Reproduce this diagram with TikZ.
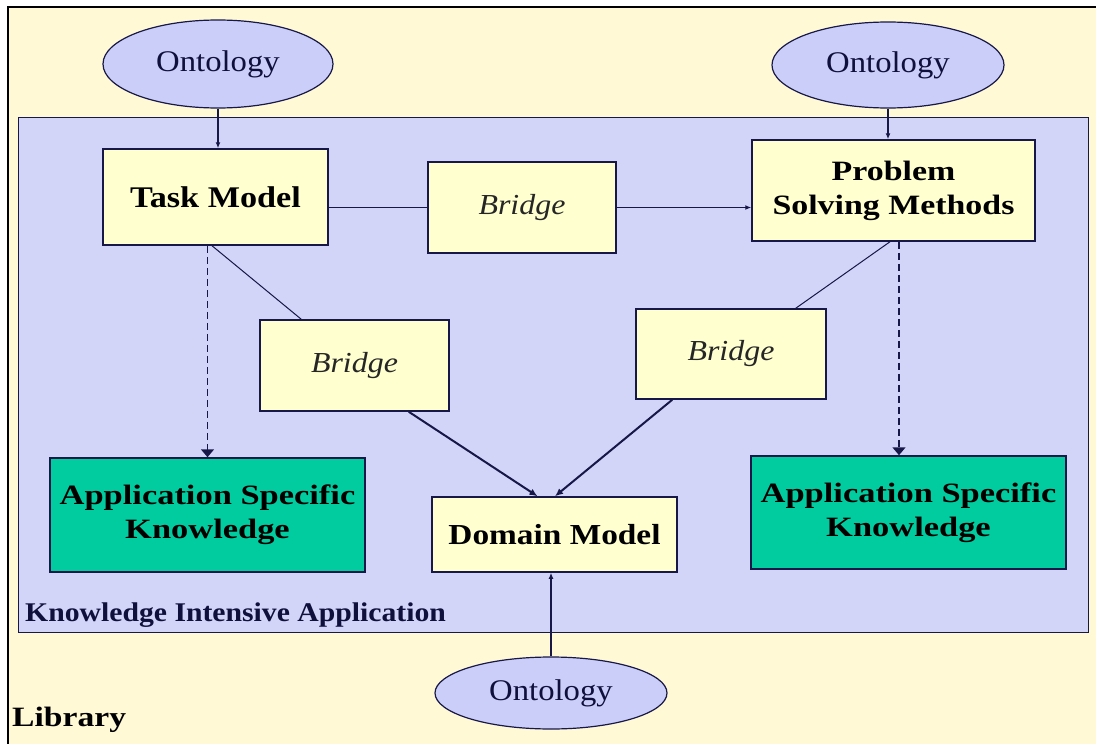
\documentclass[tikz,border=0pt]{standalone}
\usepackage{fontspec}
\setmainfont{Liberation Serif}
\usetikzlibrary{shapes.geometric,arrows.meta,calc}
\definecolor{bgyellow}{RGB}{255,249,214}
\definecolor{appblue}{RGB}{210,212,248}
\definecolor{boxyellow}{RGB}{255,255,208}
\definecolor{boxgreen}{RGB}{0,204,160}
\definecolor{ontoblue}{RGB}{204,206,250}
\definecolor{linec}{RGB}{24,24,72}
\definecolor{navytext}{RGB}{16,16,60}
\newcommand{\sx}[2]{\scalebox{#1}[1]{#2}}
\begin{document}
\begin{tikzpicture}[x=1pt,y=-1pt,
  ybox/.style={draw=linec,line width=1.5pt,fill=boxyellow,rectangle,inner sep=0pt,align=center},
  gbox/.style={draw=linec,line width=1.5pt,fill=boxgreen,rectangle,inner sep=0pt,align=center},
  onto/.style={draw=linec,line width=1.2pt,fill=ontoblue,ellipse,inner sep=0pt,text=navytext,font=\fontsize{30}{32}\selectfont},
  bold/.style={font=\bfseries\fontsize{28}{34}\selectfont},
  bridgetxt/.style={font=\itshape\fontsize{29}{32}\selectfont,text=black!85},
  conn/.style={draw=linec,line width=1.5pt},
  thinconn/.style={draw=linec,line width=1pt},
  arr/.style={conn,-{Latex[length=6pt,width=5pt]}},
  darr/.style={draw=linec,line width=1.5pt,dash pattern=on 7pt off 4pt,-{Triangle[length=8pt,width=13pt]}},
  barr/.style={draw=linec,line width=2pt,-{Latex[length=8pt,width=7pt]}}
]
\useasboundingbox (0,0) rectangle (1096,744);
\fill[white] (0,0) rectangle (1096,744);
\fill[bgyellow] (8,7) rectangle (1096,744);
\draw[black,line width=2pt] (8,746) -- (8,7) -- (1098,7);

% application area
\node[draw=linec,line width=1pt,fill=appblue,minimum width=1070pt,minimum height=515pt,inner sep=0pt,anchor=north west] (app) at (18,117) {};

% ontologies
\node[onto,minimum width=230pt,minimum height=88pt] (ontTL) at (218,64) {\sx{1.09}{Ontology}};
\node[onto,minimum width=232pt,minimum height=86pt] (ontTR) at (888,65) {\sx{1.09}{Ontology}};
\node[onto,minimum width=232pt,minimum height=72pt] (ontB) at (551,693) {\sx{1.09}{Ontology}};

% boxes
\node[ybox,font=\bfseries\fontsize{30}{34}\selectfont,minimum width=225pt,minimum height=96pt] (task) at (215.5,197) {\sx{1.14}{Task Model}};
\node[ybox,bold,minimum width=283pt,minimum height=101pt] (psm) at (893.5,190.5) {\sx{1.21}{Problem}\\\sx{1.21}{Solving Methods}};
\node[ybox,bridgetxt,minimum width=188pt,minimum height=91pt] (bridgeM) at (522,207.5) {\sx{1.1}{Bridge}};
\node[ybox,bridgetxt,minimum width=189pt,minimum height=91pt] (bridgeL) at (354.5,365.5) {\sx{1.1}{Bridge}};
\node[ybox,bridgetxt,minimum width=190pt,minimum height=90pt] (bridgeR) at (731,354) {\sx{1.1}{Bridge}};
\node[ybox,font=\bfseries\fontsize{29}{34}\selectfont,minimum width=245pt,minimum height=75pt] (domain) at (554.5,534.5) {\sx{1.15}{Domain Model}};
\node[gbox,bold,minimum width=315pt,minimum height=114pt] (greenL) at (207.5,515) {\sx{1.23}{Application Specific}\\\sx{1.23}{Knowledge}};
\node[gbox,bold,minimum width=315pt,minimum height=113pt] (greenR) at (908.5,512.5) {\sx{1.23}{Application Specific}\\\sx{1.23}{Knowledge}};

% labels
\node[anchor=base west,inner sep=0pt,text=navytext,font=\bfseries\fontsize{27}{30}\selectfont] (kia) at (25,621) {\sx{1.1}{Knowledge Intensive Application}};
\node[anchor=base west,inner sep=0pt,text=black,font=\bfseries\fontsize{28}{30}\selectfont] (lib) at (12,726) {\sx{1.2}{Library}};

% connectors
\draw[arr] (ontTL.south) -- (ontTL.south |- task.north);
\draw[arr] (ontTR.south) -- (ontTR.south |- psm.north);
\draw[arr] (ontB.north) -- (ontB.north |- domain.south);
\draw[conn] (task.east |- bridgeM.west) -- (bridgeM.west);
\draw[arr] (bridgeM.east) -- (bridgeM.east -| psm.west);
\draw[darr] (greenL.north |- task.south) -- (greenL.north);
\draw[darr] ([xshift=5.5pt]psm.south) -- ([xshift=5.5pt]psm.south |- greenR.north);
\draw[thinconn] ([xshift=-3.5pt]task.south) -- ([xshift=42pt]bridgeL.north west);
\draw[thinconn] ([xshift=-3.5pt]psm.south) -- ([xshift=-31pt]bridgeR.north east);
\draw[barr] ([xshift=-41pt]bridgeL.south east) -- ([xshift=-17pt]domain.north);
\draw[barr] ([xshift=37pt]bridgeR.south west) -- ([xshift=0.5pt]domain.north);
\end{tikzpicture}
\end{document}
